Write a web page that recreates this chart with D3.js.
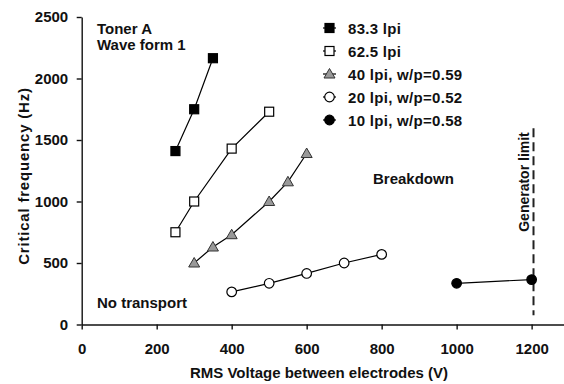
<!DOCTYPE html>
<html><head><meta charset="utf-8">
<script src="https://cdn.jsdelivr.net/npm/d3@7"></script>
<style>body{margin:0;background:#fff}svg text{font-family:"Liberation Sans",Arial,sans-serif;font-weight:bold;fill:#111}</style>
</head><body><svg id="c" width="564" height="384"></svg>
<script>
const xTicks=[0,200,400,600,800,1000,1200];
const yTicks=[0,500,1000,1500,2000,2500];
const seriesNames=["83.3 lpi","62.5 lpi","40 lpi, w/p=0.59","20 lpi, w/p=0.52","10 lpi, w/p=0.58"];
const s83x=[250,300,350], s83y=[1410,1750,2165];
const s62x=[250,300,400,500], s62y=[750,1000,1430,1730];
const s40x=[300,350,400,500,550,600], s40y=[500,630,730,1000,1160,1390];
const s20x=[400,500,600,700,800], s20y=[265,335,415,500,570];
const s10x=[1000,1200], s10y=[335,365];
const generatorLimit=1205;
const markers=["squareFilled","squareOpen","triangle","circleOpen","circleFilled"];

const svg=d3.select("#c");
const x=d3.scaleLinear().domain([0,1285]).range([81.7,563.5]);
const y=d3.scaleLinear().domain([0,2500]).range([324.5,17]);

const gx=svg.append("g").attr("transform","translate(0,324.5)")
 .call(d3.axisBottom(x).tickValues(xTicks).tickFormat(d3.format("d")).tickSize(5).tickSizeOuter(0).tickPadding(14));
const gy=svg.append("g").attr("transform","translate(81.7,0)")
 .call(d3.axisLeft(y).tickValues(yTicks).tickFormat(d3.format("d")).tickSize(5).tickSizeOuter(0).tickPadding(8.5));
[gx,gy].forEach(g=>{g.select(".domain").attr("stroke","#111").attr("stroke-width",1.4);
 g.selectAll(".tick line").attr("stroke","#111").attr("stroke-width",1.4);
 g.selectAll("text").attr("font-size",15).attr("font-family","Liberation Sans, Arial").attr("font-weight","bold").attr("fill","#111");});

svg.append("text").attr("x",319).attr("y",378).attr("text-anchor","middle").attr("font-size",15).text("RMS Voltage between electrodes (V)");
svg.append("text").attr("transform","translate(28.5,176) rotate(-90)").attr("text-anchor","middle").attr("font-size",15).attr("letter-spacing",0.8).text("Critical frequency (Hz)");

// generator limit
svg.append("line").attr("x1",x(generatorLimit)).attr("x2",x(generatorLimit)).attr("y1",y(1595)).attr("y2",y(75))
 .attr("stroke","#222").attr("stroke-width",2).attr("stroke-dasharray","9,5");
svg.append("text").attr("transform",`translate(${x(generatorLimit)-5},182) rotate(-90)`).attr("text-anchor","middle").attr("font-size",14).text("Generator limit");

svg.append("text").attr("x",97).attr("y",34).attr("font-size",15).text("Toner A");
svg.append("text").attr("x",97).attr("y",50).attr("font-size",15).text("Wave form 1");
svg.append("text").attr("x",373).attr("y",184).attr("font-size",15).text("Breakdown");
svg.append("text").attr("x",97).attr("y",308).attr("font-size",15).text("No transport");

const data=[[s83x,s83y],[s62x,s62y],[s40x,s40y],[s20x,s20y],[s10x,s10y]];
const line=d3.line().x(d=>x(d[0])).y(d=>y(d[1]));
function drawMarker(g,type,cx,cy){
 if(type.startsWith("square")) g.append("rect").attr("x",cx-4.5).attr("y",cy-4.5).attr("width",9).attr("height",9)
   .attr("fill",type==="squareFilled"?"#000":"#fff").attr("stroke","#000").attr("stroke-width",1.2);
 else if(type==="triangle") g.append("path").attr("d",`M${cx},${cy-5.5}L${cx+5.5},${cy+4}L${cx-5.5},${cy+4}Z`)
   .attr("fill","#999").attr("stroke","#333").attr("stroke-width",1);
 else g.append("circle").attr("cx",cx).attr("cy",cy).attr("r",4.8)
   .attr("fill",type==="circleFilled"?"#000":"#fff").attr("stroke","#000").attr("stroke-width",1.2);
}
data.forEach((s,i)=>{
 const pts=s[0].map((v,j)=>[v,s[1][j]]);
 svg.append("path").datum(pts).attr("d",line).attr("fill","none").attr("stroke","#000").attr("stroke-width",1.2);
 const g=svg.append("g");
 pts.forEach(p=>drawMarker(g,markers[i],x(p[0]),y(p[1])));
});
// legend
seriesNames.forEach((n,i)=>{
 const ly=28+i*23;
 const g=svg.append("g");
 g.append("line").attr("x1",323).attr("x2",336).attr("y1",ly).attr("y2",ly).attr("stroke","#000").attr("stroke-width",1.2);
 drawMarker(g,markers[i],329.5,ly);
 g.append("text").attr("x",348).attr("y",ly+5.5).attr("font-size",15).attr("letter-spacing",0.3).text(n);
});
</script></body></html>
